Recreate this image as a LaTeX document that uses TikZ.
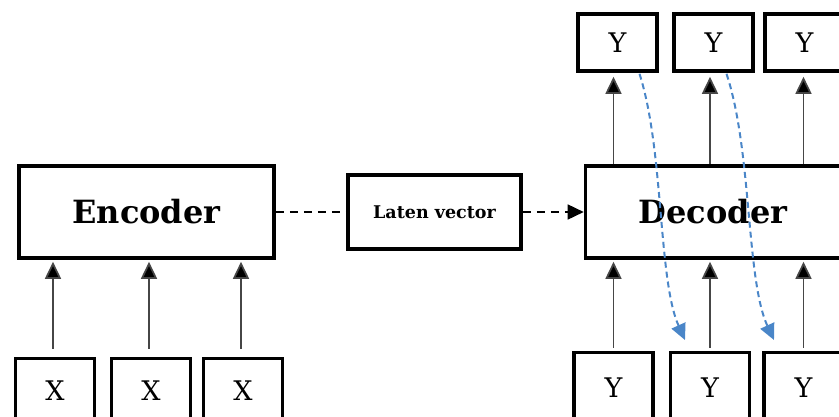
\documentclass[tikz,border=0pt]{standalone}
\usepackage{fontspec}
\setmainfont{DejaVu Serif}
\usetikzlibrary{arrows.meta}
\definecolor{bluedash}{RGB}{74,134,200}
\definecolor{arrgray}{RGB}{70,70,70}
\tikzset{
  box/.style={draw=black, line width=3.6pt, fill=white, inner sep=0pt},
  bigbox/.style={box, minimum width=255pt, minimum height=92pt, font=\fontsize{32}{38}\selectfont\bfseries},
  smallbox/.style={box, minimum width=79pt, font=\fontsize{27}{32}\selectfont},
  latbox/.style={box, minimum width=173pt, minimum height=74pt, font=\fontsize{17.5}{21}\selectfont\bfseries},
  arr/.style={draw=arrgray, line width=1.7pt, -{Triangle[length=17pt,width=16pt,fill=black]}},
  dasharr/.style={draw=black, line width=1.6pt, dash pattern=on 8pt off 6pt},
  bluearr/.style={draw=bluedash, line width=2pt, dash pattern=on 6pt off 4pt, -{Triangle[length=16pt,width=15pt]}}
}
\begin{document}
\begin{tikzpicture}[x=1pt,y=-1pt]
\useasboundingbox (0,0) rectangle (839,416);
% encoder side
\node[bigbox] (enc) at (146.5,212) {Encoder};
\node[smallbox, minimum height=65pt] (x1) at (55,391) {X};
\node[smallbox, minimum height=65pt] (x2) at (151,391) {X};
\node[smallbox, minimum height=65pt] (x3) at (243,391) {X};
% latent
\node[latbox] (lat) at (434.5,212) {Laten vector};
% decoder
\node[bigbox] (dec) at (713,212) {Decoder};
\node[smallbox, minimum height=57pt] (t1) at (617.5,42.5) {Y};
\node[smallbox, minimum height=57pt] (t2) at (713.5,42.5) {Y};
\node[smallbox, minimum height=57pt] (t3) at (804.5,42.5) {Y};
\node[smallbox, minimum height=71pt] (b1) at (613.5,388) {Y};
\node[smallbox, minimum height=71pt] (b2) at (710,388) {Y};
\node[smallbox, minimum height=71pt] (b3) at (803.5,388) {Y};
% encoder inputs
\foreach \i in {1,2,3}{
  \draw[arr, shorten <=8pt, shorten >=2pt] ([xshift=-2pt]x\i.north) -- ([xshift=-2pt]x\i.north |- enc.south);
}
% decoder inputs and outputs
\foreach \i in {1,2,3}{
  \draw[arr, shorten <=3pt, shorten >=2pt] (b\i.north) -- (b\i.north |- dec.south);
  \draw[arr, shorten >=4pt] (b\i.north |- dec.north) -- (b\i.north |- t\i.south);
}
% latent connections
\draw[dasharr] (enc.east) -- (lat.west);
\draw[dasharr, -{Triangle[length=16pt,width=15pt]}] (lat.east) -- (dec.west);
% blue feedback curves
\coordinate (e1) at (685,340);
\coordinate (e2) at (774,340);
\draw[bluearr] ([xshift=22pt,yshift=-1pt]t1.south) .. controls (664,150) and (658,280) .. (e1);
\draw[bluearr] ([xshift=13pt,yshift=-1pt]t2.south) .. controls (752,150) and (746,280) .. (e2);
\end{tikzpicture}
\end{document}
